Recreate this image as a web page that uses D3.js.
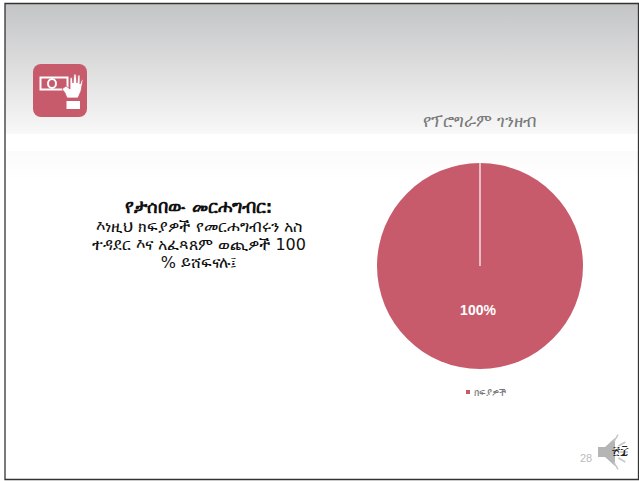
<!DOCTYPE html>
<html>
<head>
<meta charset="utf-8">
<script src="https://cdn.jsdelivr.net/npm/d3@7"></script>
<style>
	html, body { margin: 0; padding: 0; background: #fff; overflow: hidden; }
	text { font-family: "DejaVu Sans", "Noto Sans", sans-serif; }
</style>
</head>
<body>
<script>
//Chart data
const categories = ["ክፍያዎች"];
const seriesValues = [100];
const valueLabels = ["100%"];

//Slide texts
const chartTitle = "የፕሮግራም ገንዘብ";
const bodyHead = "የታሰበው መርሐግብር:";
const bodyLines = ["እነዚህ ክፍያዎች የመርሐግብሩን አስ", "ተዳደር እና አፈጻጸም ወጪዎች 100", "% ይሸፍናሉ፤"];
const pageNumber = "28";
const pageNumberEthiopic = "፳፰";

const w = 639, h = 481;
const rose = "#c75b6c";

const svg = d3.select("body").append("svg")
	.attr("width", w)
	.attr("height", h)
	.style("display", "block");

//Header gradient
const defs = svg.append("defs");
const grad = defs.append("linearGradient")
	.attr("id", "head")
	.attr("x1", 0).attr("y1", 0).attr("x2", 0).attr("y2", 1);
grad.append("stop").attr("offset", "0%").attr("stop-color", "#c3c4c5");
grad.append("stop").attr("offset", "100%").attr("stop-color", "#f8f8f8");

//Faint band under the header, fades out to white
const band = defs.append("linearGradient")
	.attr("id", "band")
	.attr("x1", 0).attr("y1", 0).attr("x2", 0).attr("y2", 1);
band.append("stop").attr("offset", "0%").attr("stop-color", "#fbfbfb");
band.append("stop").attr("offset", "100%").attr("stop-color", "#ffffff");

svg.append("rect").attr("x", 5).attr("y", 3).attr("width", 634).attr("height", 131).attr("fill", "url(#head)");
svg.append("rect").attr("x", 5).attr("y", 151).attr("width", 634).attr("height", 30).attr("fill", "url(#band)");

//Slide frame
svg.append("path")
	.attr("d", "M5,479.5V3.5H638.5V479.5H5Z")
	.attr("fill", "none")
	.attr("stroke", "#333")
	.attr("stroke-width", 1.3);

//Money icon
const icon = svg.append("g").attr("transform", "translate(33,64)");
icon.append("rect").attr("width", 54).attr("height", 53).attr("rx", 8).attr("fill", rose);
icon.append("rect").attr("x", 7.5).attr("y", 13.5).attr("width", 27).attr("height", 12).attr("fill", "none").attr("stroke", "#fff").attr("stroke-width", 2);
icon.append("ellipse").attr("cx", 19).attr("cy", 19.5).attr("rx", 4).attr("ry", 4.5).attr("fill", "none").attr("stroke", "#fff").attr("stroke-width", 2);
icon.append("path")
	.attr("d", "M29,25 L33,22 L37,25 L37,14 L39,13 L40,19 L41,10 L43,10 L44,19 L45,11 L47,11 L47,20 L49,15 L50,16 L48,27 L45,34 L34,34 L32,29Z")
	.attr("fill", "#fff")
	.attr("stroke", rose)
	.attr("stroke-width", 0.8);
icon.append("rect").attr("x", 33.5).attr("y", 37).attr("width", 13.5).attr("height", 8).attr("fill", "#fff");

//Body text
const body = svg.append("text")
	.attr("text-anchor", "middle")
	.attr("fill", "#111")
	.attr("font-size", 16);
body.append("tspan")
	.attr("x", 199).attr("y", 213)
	.attr("font-weight", "bold")
	.attr("font-size", 17.5)
	.text(bodyHead);
body.selectAll(".bodyLine")
	.data(bodyLines)
	.enter()
	.append("tspan")
	.attr("class", "bodyLine")
	.attr("x", 199)
	.attr("y", function(d, i){
		return 232 + i * 18;
	})
	.text(function(d){
		return d;
	});

//Chart title
svg.append("text")
	.attr("x", 480).attr("y", 127)
	.attr("text-anchor", "middle")
	.attr("fill", "#7a7a7a")
	.attr("font-size", 16.8)
	.text(chartTitle);

//Pie
const radius = 103;
const pie = d3.pie().sort(null);
const arc = d3.arc().innerRadius(0).outerRadius(radius);
const color = d3.scaleOrdinal().domain(categories).range([rose]);

const pieG = svg.append("g").attr("transform", "translate(480,266)");
const slices = pieG.selectAll(".slice")
	.data(pie(seriesValues))
	.enter()
	.append("g")
	.attr("class", "slice");
slices.append("path")
	.attr("d", arc)
	.attr("fill", function(d, i){
		return color(categories[i]);
	});
//Seam where the full slice meets itself
slices.append("line")
	.attr("x1", 0).attr("y1", 0)
	.attr("x2", function(d){
		return d3.pointRadial(d.startAngle, radius)[0];
	})
	.attr("y2", function(d){
		return d3.pointRadial(d.startAngle, radius)[1];
	})
	.attr("stroke", "#fff")
	.attr("stroke-width", 1.2);
slices.append("text")
	.attr("transform", "translate(-2,49)")
	.attr("text-anchor", "middle")
	.attr("fill", "#fff")
	.style("font-family", "Liberation Sans")
	.attr("font-weight", "bold")
	.attr("font-size", 14)
	.text(function(d, i){
		return valueLabels[i];
	});

//Legend
const legend = svg.selectAll(".legend")
	.data(categories)
	.enter()
	.append("g")
	.attr("class", "legend")
	.attr("transform", "translate(466,392)");
legend.append("rect")
	.attr("x", 0).attr("y", -2)
	.attr("width", 4).attr("height", 4)
	.attr("fill", function(d){
		return color(d);
	});
legend.append("text")
	.attr("x", 8).attr("y", 3.5)
	.attr("fill", "#777")
	.attr("font-size", 9.5)
	.text(function(d){
		return d;
	});

//Page number
svg.append("text")
	.attr("x", 580).attr("y", 462)
	.attr("fill", "#bbb")
	.style("font-family", "Liberation Sans")
	.attr("font-size", 11)
	.text(pageNumber);

//Speaker icon
const speaker = svg.append("g").attr("transform", "translate(598,452)");
speaker.append("path")
	.attr("d", "M0,-5 L7,-5 L17,-14 L17,14 L7,5 L0,5Z")
	.attr("fill", "#b5b5b5");
speaker.selectAll(".ray")
	.data([-60, -30, 0, 30, 60])
	.enter()
	.append("line")
	.attr("class", "ray")
	.attr("x1", function(d){ return 10 + 12 * Math.cos(d * Math.PI / 180); })
	.attr("y1", function(d){ return 12 * Math.sin(d * Math.PI / 180); })
	.attr("x2", function(d){ return 10 + 20 * Math.cos(d * Math.PI / 180); })
	.attr("y2", function(d){ return 20 * Math.sin(d * Math.PI / 180); })
	.attr("stroke", "#c8c8c8")
	.attr("stroke-width", 1.6);
svg.append("text")
	.attr("x", 620).attr("y", 455)
	.attr("text-anchor", "middle")
	.attr("fill", "#222")
	.attr("font-size", 13)
	.text(pageNumberEthiopic);
</script>
</body>
</html>
